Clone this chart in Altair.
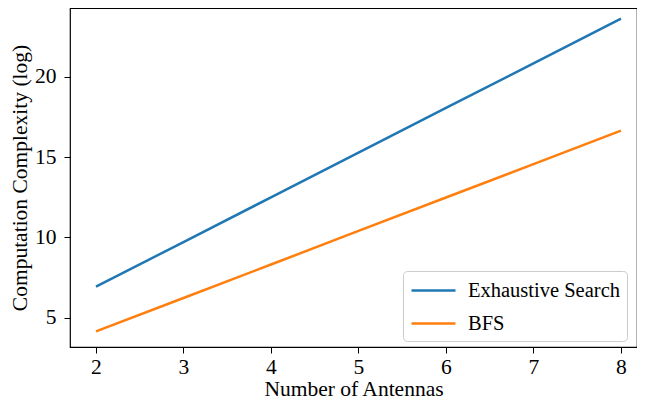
import altair as alt
import pandas as pd

antennas = [2, 3, 4, 5, 6, 7, 8]
exhaustive = [6.93, 9.71, 12.49, 15.27, 18.05, 20.83, 23.61]
bfs = [4.15, 6.23, 8.31, 10.40, 12.48, 14.56, 16.64]
series_names = ["Exhaustive Search", "BFS"]
colors = ["#1f77b4", "#ff7f0e"]

rows = []
for x, v in zip(antennas, exhaustive):
    rows.append({"x": x, "y": v, "s": series_names[0]})
for x, v in zip(antennas, bfs):
    rows.append({"x": x, "y": v, "s": series_names[1]})
df = pd.DataFrame(rows)

font = "Liberation Serif"
fs = 21.5

chart = alt.Chart(df).mark_line(strokeWidth=2.5, clip=True).encode(
    x=alt.X("x:Q", scale=alt.Scale(domain=[1.703, 8.183], nice=False, zero=False),
            axis=alt.Axis(title="Number of Antennas", values=antennas, format="d",
                          grid=False, tickColor="black", tickSize=6, domain=False,
                          labelFont=font, labelFontSize=fs, labelColor="black",
                          titleFont=font, titleFontSize=fs, titleFontWeight="normal",
                          titleColor="black", labelPadding=3, titlePadding=1)),
    y=alt.Y("y:Q", scale=alt.Scale(domain=[3.18, 24.27], nice=False, zero=False),
            axis=alt.Axis(title="Computation Complexity (log)", values=[5, 10, 15, 20],
                          grid=False, tickColor="black", tickSize=6, domain=False,
                          labelFont=font, labelFontSize=fs, labelColor="black",
                          titleFont=font, titleFontSize=fs, titleFontWeight="normal",
                          titleColor="black", labelPadding=8, titlePadding=3)),
    color=alt.Color("s:N", scale=alt.Scale(domain=series_names, range=colors),
                    legend=alt.Legend(title=None, orient="none", legendX=333, legendY=263,
                                      symbolType="M-2,0H2", symbolSize=484,
                                      symbolOffset=11,
                                      symbolStrokeWidth=2.5, labelFont=font,
                                      labelFontSize=20.5, labelColor="black",
                                      fillColor="rgba(255,255,255,0.8)",
                                      strokeColor="#cccccc", cornerRadius=4,
                                      padding=7, rowPadding=10, labelOffset=22,
                                      labelLimit=300)),
).properties(
    width=567, height=339,
    autosize=alt.AutoSizeParams(type="none"),
    padding={"left": 62, "top": 0, "right": 0, "bottom": 54},
).configure_view(stroke="black", strokeWidth=1.2)

chart.save("out.html", embed_options={"renderer": "svg", "actions": False})
